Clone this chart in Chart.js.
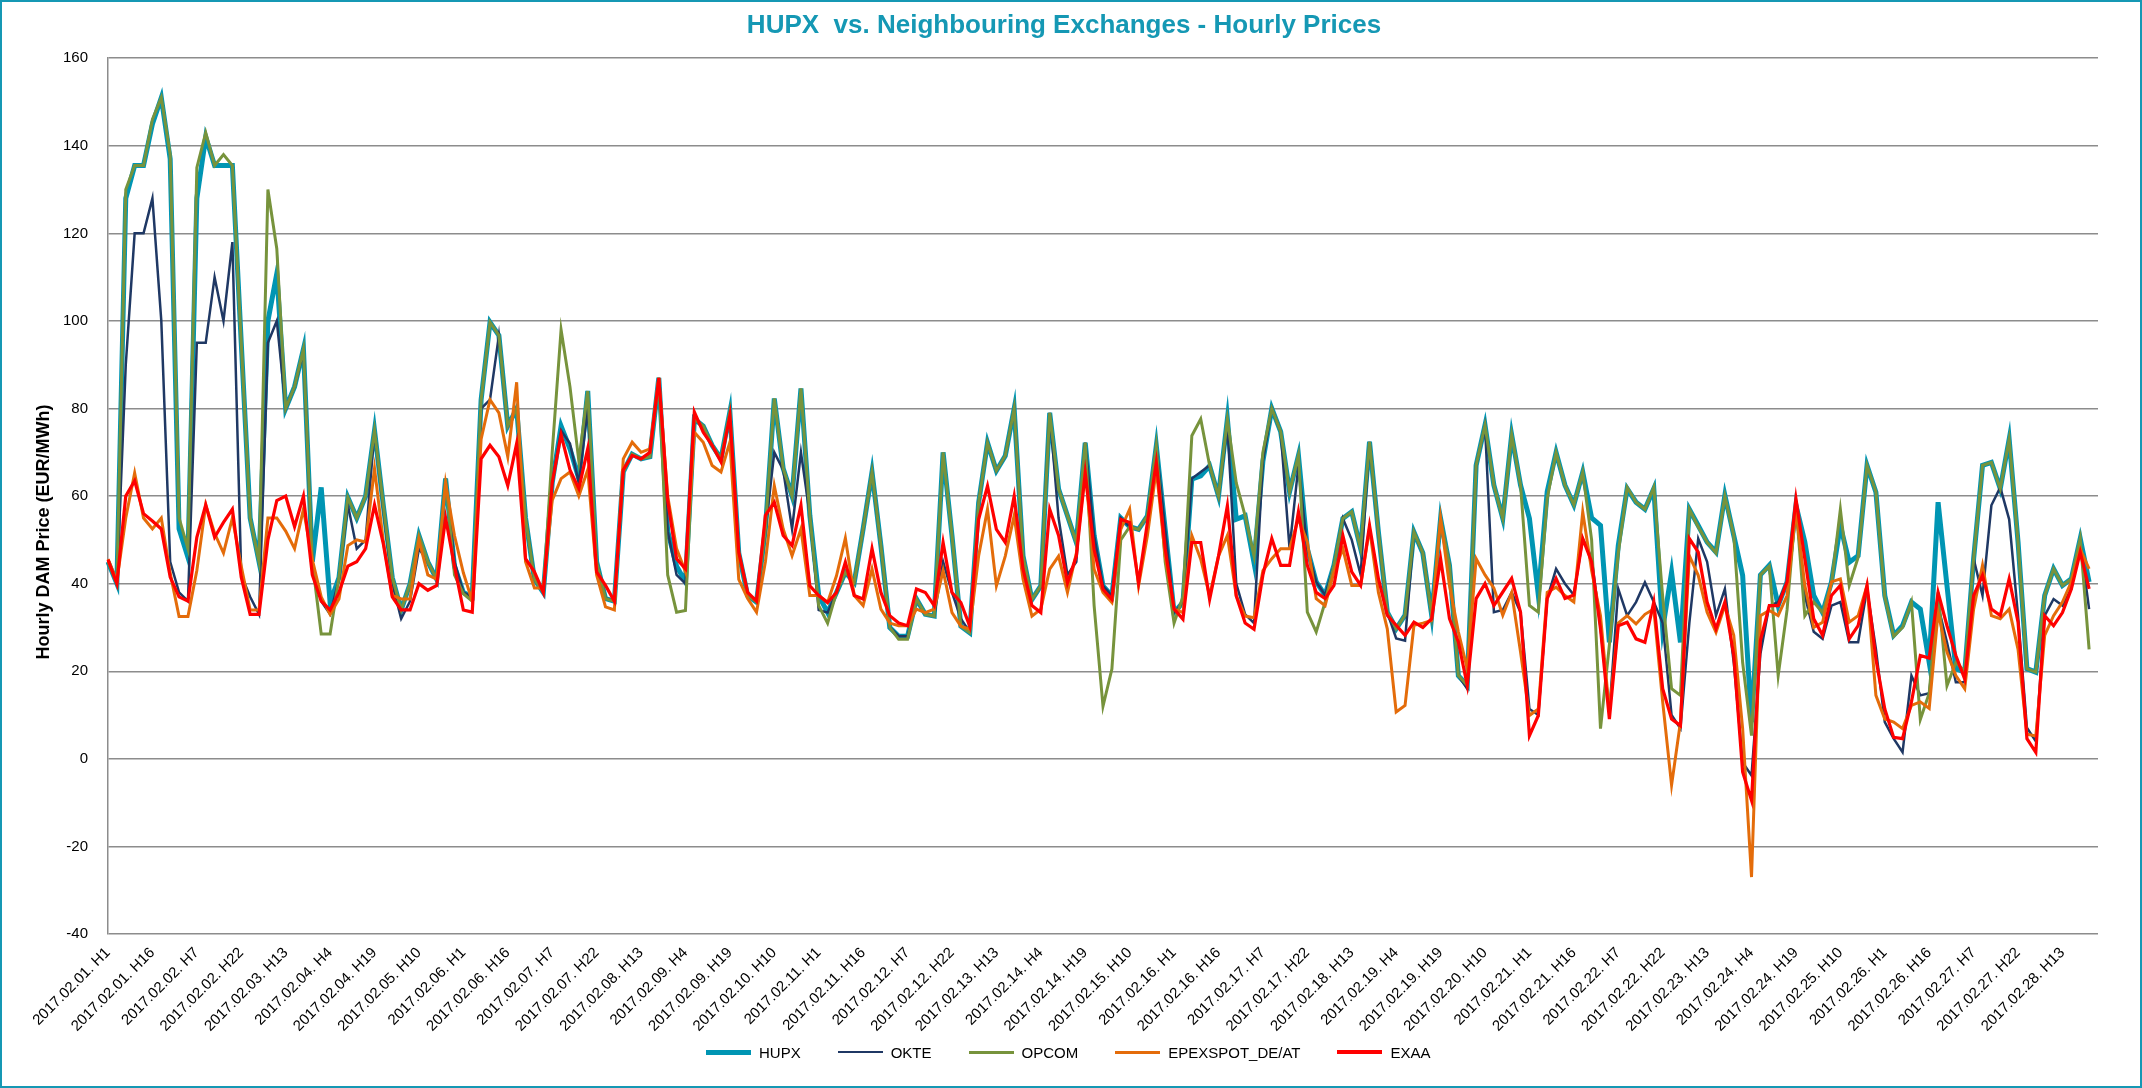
<!DOCTYPE html>
<html>
<head>
<meta charset="utf-8">
<script src="https://cdn.jsdelivr.net/npm/chart.js@4.4.1/dist/chart.umd.min.js"></script>
<style>
  html, body { margin: 0; padding: 0; background: #fff; }
  #wrap { position: relative; width: 2142px; height: 1088px; }
  #legend {
    position: absolute; left: 706px; top: 1040px; height: 24px;
    display: flex; align-items: center; gap: 37px;
    font: 15px 'Liberation Sans', Arial, sans-serif; color: #000;
  }
  #legend .item { display: flex; align-items: center; gap: 8px; white-space: nowrap; }
  #legend .swatch { display: inline-block; width: 45px; }
</style>
</head>
<body>
<div id="wrap">
  <canvas id="chart" width="2142" height="1088"></canvas>
  <div id="legend"></div>
</div>
<script>
// 3-hourly samples (H1, H4, ... H22), one line per day
const days = ["01","02","03","04","05","06","07","08","09","10","11","12","13","14",
              "15","16","17","18","19","20","21","22","23","24","25","26","27","28"];
const hours = [1, 4, 7, 10, 13, 16, 19, 22];
const categories = days.flatMap((d) => hours.map((h) => "2017.02." + d + ". H" + h));
categories.push("2017.03.01. H1"); // end of the month, closes the axis

const hupx = [
  45, 40, 128, 135.5, 135.5, 145, 151, 137,
  52.5, 46, 128, 142, 135.5, 135.5, 135.5, 95,
  55, 45, 100, 110.8, 80, 85, 93.6, 45,
  62, 35.7, 41.4, 59.7, 55, 60, 75, 57.7,
  41.4, 34, 40, 51, 45, 41, 64, 44,
  38, 37, 82, 99.7, 96.7, 76, 80, 55,
  41, 38, 63, 76, 70.8, 64, 84, 45,
  36.6, 36, 65.5, 69.6, 68.5, 69, 87, 52,
  44, 40.4, 77.6, 76, 71.6, 68.5, 79.2, 47,
  37.3, 35.8, 52.5, 82.3, 66.3, 60, 84.6, 55.6,
  37.3, 33.4, 38, 42.6, 40.3, 52.5, 65.5, 48.7,
  30, 28, 28, 36.5, 33, 32.6, 70, 51,
  30.3, 28.8, 58.5, 72.2, 65.8, 69.2, 80, 46.3,
  36.4, 39.5, 79, 61.6, 55.5, 49.4, 72.2, 51,
  39.5, 37.2, 55, 53, 52.4, 55.5, 71.5, 52.4,
  33.4, 35.7, 63.9, 64.6, 66.9, 60, 77.6, 54.7,
  55.5, 44.8, 68, 80, 74.7, 61, 69.3, 48,
  40.4, 37.4, 44.2, 54.9, 56.4, 48, 72.4, 51.8,
  33.5, 29.7, 32.8, 51.8, 47, 32.8, 54.9, 44.2,
  19, 16.8, 67, 76.2, 62.5, 54.9, 74, 62.5,
  54.9, 37.4, 61, 70, 62.5, 58, 65.5, 55,
  53.3, 26.6, 48.7, 61.7, 58.6, 57, 61.7, 29.7,
  42.6, 26.6, 57, 53.3, 49.5, 47.2, 60.2, 51,
  41.9, 8.4, 42, 44.2, 35, 40.4, 57.9, 49.5,
  37.3, 33.4, 40.4, 53.3, 44.9, 46.4, 67, 60.9,
  37.3, 28.2, 30.4, 35.8, 34.2, 22, 58.6, 39.6,
  20.6, 19.8, 45.7, 67, 67.7, 61.7, 73, 49.5,
  20.6, 19.8, 37.3, 43.4, 39.6, 41.1, 50.3, 40.4
];

const okte = [
  45, 40, 90, 120, 120, 128, 100, 45,
  38, 36, 95, 95, 110, 100, 118, 42,
  37, 33, 95, 100, 80, 85, 93, 45,
  36, 33, 41, 58, 48, 50, 75, 57,
  40, 32, 36, 48, 45, 41, 64, 45,
  38, 37, 80, 82, 96.7, 76, 80, 55,
  41, 38, 63, 75, 72, 63, 80, 45,
  36.6, 36, 65.5, 69.6, 68.5, 69, 87, 52,
  42, 40, 77.6, 76, 71.6, 68.5, 79.2, 47,
  37.3, 35.8, 52, 70, 66, 52.5, 70, 55.6,
  34, 33.4, 38, 42.6, 40.3, 52.5, 65.5, 48.7,
  30, 28, 28, 36.5, 33, 32.6, 45, 38,
  32, 29, 58.5, 72.2, 65.8, 69.2, 80, 46.3,
  36.4, 39.5, 79, 55, 42, 45, 72.2, 51,
  39.5, 37.2, 55, 53, 52.4, 55.5, 71.5, 52.4,
  33.4, 35.7, 64, 65.5, 67, 60, 76, 40,
  33, 31, 68, 80, 74.7, 48, 67, 48,
  40.4, 37.4, 44.2, 54.9, 50, 42, 72.4, 51.8,
  33.5, 27.5, 27, 51.8, 47, 32.8, 54.9, 44.2,
  19, 16, 67, 76, 33.5, 34, 38, 33.5,
  11.4, 10, 36.6, 43.4, 40, 37.4, 50.3, 46,
  30, 10.7, 38.8, 32.7, 35.8, 40.3, 35.8, 31,
  10, 6.9, 31, 50.3, 45, 32.7, 38.8, 22,
  -0.8, -3.8, 24, 35, 35.8, 40.4, 57, 37.3,
  29, 27.4, 35, 35.8, 26.6, 26.6, 38.8, 25.1,
  8.4, 4.6, 1.5, 19, 14.5, 15, 35, 26.6,
  17.5, 17.5, 45.7, 37.3, 57.9, 62, 54.7, 32.7,
  7.1, 4, 32.7, 36.5, 35, 38.8, 49.5, 34.2
];

const opcom = [
  45, 40, 130, 135.5, 135.5, 146, 151, 138,
  55, 48, 135, 143, 135.5, 138, 135.5, 95,
  55, 45, 130, 116.5, 80, 85, 93.6, 45,
  28.5, 28.5, 41.4, 59.7, 55, 60, 75, 57.7,
  41.4, 34, 40, 51, 45, 41, 64, 42,
  37.7, 36, 82, 99.7, 96.7, 76, 80, 55,
  41, 38, 70, 98, 85, 68, 84, 45,
  36.6, 36, 65.5, 69.6, 68.5, 69, 87, 42,
  33.5, 33.9, 77.6, 76, 71.6, 68.5, 79.2, 47,
  37.3, 35.8, 52.5, 82.3, 66.3, 60, 84.6, 55.6,
  35, 31, 38, 42.6, 40.3, 52.5, 65.5, 48.7,
  30, 27.3, 27.3, 36.5, 33, 32.6, 70, 51,
  30.3, 28.8, 58.5, 72.2, 65.8, 69.2, 80, 46.3,
  36.4, 39.5, 79, 61.6, 55.5, 49.4, 72.2, 35,
  12, 20.5, 50, 53, 52.4, 55.5, 71.5, 45,
  31, 37, 73.8, 77.6, 67, 60, 77.6, 63,
  55.5, 46.3, 70, 80, 74.7, 61, 69.3, 33.5,
  29, 35.8, 44.2, 54.9, 56.4, 48, 72.4, 51.8,
  33.5, 29.7, 32.8, 51.8, 47, 32.8, 54.9, 44.2,
  19, 16.8, 67, 76.2, 62.5, 54.9, 74, 62.5,
  35, 33.5, 59.4, 70, 62.5, 58, 65.5, 50,
  6.9, 26, 47, 62, 58.6, 57, 62, 37,
  16, 14.5, 57, 53, 49.5, 47, 60, 51,
  22, 5.3, 42, 44, 19, 34, 58, 32.7,
  35.8, 33.4, 40, 57, 39.6, 46, 67, 61,
  37, 28, 30, 35.8, 9, 15, 38, 16.7,
  22, 20, 45.7, 67, 67.7, 61.7, 73, 49.5,
  20.6, 19.8, 37.3, 43.4, 39.6, 41.1, 50.3, 25
];

const epex = [
  45.6, 40.6, 55, 65.3, 55, 52.5, 55, 42.4,
  32.5, 32.5, 43, 58, 51.5, 47, 55, 44,
  34, 34, 55, 55, 52, 48, 57, 45.5,
  37, 33, 36.5, 48.7, 50, 49.5, 66.3, 49.5,
  37.3, 36.5, 36.5, 50, 42, 41, 63, 51,
  42.5, 36, 73, 82, 79, 69, 86, 45,
  39, 39, 59, 64, 65.5, 60, 66, 42,
  34.7, 34, 68.5, 72.3, 70, 70.8, 87, 60,
  48, 42.7, 74.6, 72.3, 67, 65.5, 72.3, 41,
  36.6, 33.5, 45, 62.4, 52.5, 46.4, 52.5, 37.3,
  37.3, 35.7, 41.8, 50.4, 37.3, 35, 43.4, 34.2,
  31, 30.4, 30.4, 34.2, 33.4, 34.2, 43, 33.4,
  30.3, 29.6, 46.3, 57, 39.5, 46.3, 55.5, 41,
  32.6, 34.2, 43.3, 46.3, 38, 47, 66, 43.3,
  38, 35.7, 52.4, 57, 39.5, 51, 66.1, 46.3,
  34.2, 33.4, 51, 45.6, 37.2, 46.3, 51, 37.2,
  32.6, 32.2, 43, 45.7, 48, 48, 54.9, 49.5,
  36.6, 35, 42.7, 48, 39.6, 39.6, 52.6, 38,
  29.7, 10.7, 12.2, 30.5, 31, 31.6, 54.9, 39.6,
  29, 20.6, 45.7, 42, 39, 32.8, 38, 24.4,
  9.9, 11.4, 38, 39.2, 37.3, 35.8, 56.4, 43,
  32.7, 10.7, 31, 32.7, 30.8, 33, 34.2, 13,
  -6, 8.4, 46.4, 41.9, 33.5, 28.9, 35, 28.2,
  6.9, -27, 32.7, 33.9, 32.7, 37.3, 57, 39.6,
  30, 31.2, 40.4, 41.1, 31.2, 32.7, 39.6, 14.5,
  9.1, 8.4, 6.9, 12.2, 13, 11.5, 33.4, 24.4,
  19, 16, 34.2, 44.2, 32.7, 32, 34.2, 25,
  5.6, 5.2, 28.2, 32.7, 35.8, 40.4, 47.9, 43.4
];

const exaa = [
  45.5, 40, 60, 63.5, 56, 54.3, 52.5, 41.5,
  37, 36, 50.6, 58, 50.6, 54, 57, 41.5,
  33, 33, 50, 59, 60, 53, 60, 42,
  36, 34, 38, 44, 45, 48, 58, 49,
  37, 34, 34, 40, 38.5, 39.6, 55, 44,
  34, 33.5, 68.5, 71.6, 69, 62.4, 72, 45.7,
  42.7, 38, 63, 74, 66, 61.7, 70.8, 42.7,
  39.6, 36, 66, 69.3, 68.5, 70, 87, 59,
  45.7, 43.4, 79.2, 74.6, 71.6, 67.8, 78.4, 47.2,
  38, 36, 55.6, 58.6, 51, 48.7, 57.9, 39.5,
  37.3, 35.7, 38, 44.9, 37.3, 36.5, 48, 38,
  32.7, 31, 30.4, 38.8, 38, 35, 49.4, 38,
  35.7, 30.3, 54.7, 62.3, 52.4, 49.4, 60, 43.3,
  35, 33.4, 57, 51, 40.2, 46.3, 65.3, 47.8,
  38.7, 36.4, 54.7, 54, 40.2, 54, 67.7, 48,
  34.2, 31.9, 49.4, 49.4, 36.4, 46.3, 57.8, 37.2,
  31, 29.6, 42, 50.3, 44.2, 44.2, 56.4, 44.2,
  38, 36.6, 39.6, 51, 42.7, 39.6, 53.3, 41.2,
  32.8, 30.5, 28.2, 31.2, 30, 32, 45.7, 32,
  26.7, 16.8, 36.6, 40, 35, 38.1, 41.2, 33.5,
  5.3, 9.9, 36.6, 41.2, 36.6, 37.4, 50.3, 45,
  29.7, 9.1, 30.4, 31.2, 27.4, 26.6, 35.8, 16,
  9.1, 7.6, 50.3, 47.2, 35.8, 29.7, 35.8, 23.6,
  -3, -9.5, 27, 35, 35, 40.4, 59.4, 45.7,
  32, 28.2, 37.3, 39.6, 27.4, 30.4, 39.6, 22.8,
  11.4, 4.9, 4.6, 13, 23.6, 23, 38, 30.4,
  23.6, 18.2, 37.3, 41.9, 34.2, 32.7, 41.1, 31.2,
  4.6, 1.5, 32.7, 30.4, 33.4, 38.8, 47.2, 38.8
];

const FONT = "'Liberation Sans', Arial, sans-serif";
const TEAL = "#1598b4";
const Y_TITLE = "Hourly DAM Price (EUR/MWh)";

// white background, thin teal frame, and the y-axis title where Excel puts it
const frame = {
  id: "frame",
  beforeDraw(chart) {
    const c = chart.ctx;
    c.save();
    c.fillStyle = "#fff";
    c.fillRect(0, 0, chart.width, chart.height);
    c.restore();
  },
  afterDraw(chart) {
    const c = chart.ctx;
    c.save();
    c.strokeStyle = TEAL;
    c.lineWidth = 2;
    c.strokeRect(1, 1, chart.width - 2, chart.height - 2);
    c.translate(44, 532);
    c.rotate(-Math.PI / 2);
    c.fillStyle = "#000";
    c.font = "bold 18px " + FONT;
    c.textAlign = "center";
    c.textBaseline = "middle";
    c.fillText(Y_TITLE, 0, 0);
    c.restore();
  },
};

function ds(label, data, color, width, order) {
  return {
    label, data, order,
    borderColor: color, backgroundColor: color,
    borderWidth: width, pointRadius: 0, pointHoverRadius: 0,
    tension: 0, fill: false,
  };
}

const chart = new Chart(document.getElementById("chart"), {
  type: "line",
  data: {
    labels: categories,
    datasets: [
      ds("HUPX", hupx, "#0095b3", 5, 5),
      ds("OKTE", okte, "#1f3864", 2.5, 4),
      ds("OPCOM", opcom, "#77933c", 3, 3),
      ds("EPEXSPOT_DE/AT", epex, "#e46c0a", 3, 2),
      ds("EXAA", exaa, "#ff0000", 3.2, 1),
    ],
  },
  options: {
    responsive: false,
    animation: false,
    events: [],
    layout: { padding: { left: 30, right: 44, top: 8, bottom: 54 } },
    plugins: {
      title: {
        display: true,
        text: "HUPX  vs. Neighbouring Exchanges - Hourly Prices",
        color: TEAL,
        font: { family: FONT, size: 26, weight: "bold" },
        padding: { top: 2, bottom: 17 },
      },
      legend: { display: false },
      tooltip: { enabled: false },
    },
    scales: {
      x: {
        offset: false,
        grid: { display: false },
        border: { display: false },
        ticks: {
          autoSkip: false,
          maxRotation: 45,
          minRotation: 45,
          padding: 2,
          color: "#000",
          font: { family: FONT, size: 15 },
          callback: (v, i) => (i % 5 === 0 ? categories[i] : null),
        },
        afterFit: (s) => { s.height = 100; },
      },
      y: {
        min: -40,
        max: 160,
        ticks: { stepSize: 20, color: "#000", padding: 20, font: { family: FONT, size: 15 } },
        grid: { color: "#8c8c8c", lineWidth: 1.5, drawTicks: false },
        border: { display: true, color: "#8c8c8c", width: 1.5 },
        afterFit: (s) => { s.width = 78; },
      },
    },
  },
  plugins: [frame],
});

// legend in dataset order, line samples like Excel's
const legend = document.getElementById("legend");
chart.data.datasets.forEach((d) => {
  const item = document.createElement("span");
  item.className = "item";
  const sw = document.createElement("span");
  sw.className = "swatch";
  sw.style.height = d.borderWidth + "px";
  sw.style.background = d.borderColor;
  const txt = document.createElement("span");
  txt.textContent = d.label;
  item.appendChild(sw);
  item.appendChild(txt);
  legend.appendChild(item);
});
</script>
</body>
</html>
